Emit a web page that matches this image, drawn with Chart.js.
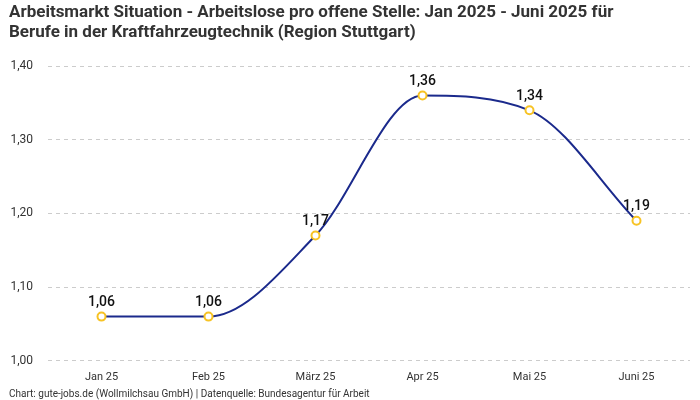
<!DOCTYPE html>
<html>
<head>
<meta charset="utf-8">
<script src="https://cdn.jsdelivr.net/npm/chart.js@4"></script>
<style>
  body { margin: 0; background: #fff; }
  #wrap { width: 700px; height: 400px; }
</style>
</head>
<body>
<div id="wrap"><canvas id="myChart"></canvas></div>
<script>
const months = ['Jan 25', 'Feb 25', 'März 25', 'Apr 25', 'Mai 25', 'Juni 25'];
const ratio = [1.06, 1.06, 1.17, 1.36, 1.34, 1.19];
const yTicks = [1.0, 1.1, 1.2, 1.3, 1.4];

const fmt = v => v.toFixed(2).replace('.', ',');

// Werte über die Punkte schreiben
const valueLabels = {
    id: 'valueLabels',
    afterDatasetsDraw(chart) {
        const ctx = chart.ctx;
        const meta = chart.getDatasetMeta(0);
        ctx.save();
        ctx.font = '500 14px Roboto, sans-serif';
        ctx.fillStyle = '#111';
        ctx.textAlign = 'center';
        ctx.textBaseline = 'bottom';
        meta.data.forEach((pt, i) => {
            ctx.fillText(fmt(ratio[i]), pt.x, pt.y - 7);
        });
        ctx.restore();
    }
};

new Chart(document.getElementById('myChart').getContext('2d'), {
    type: 'line',
    data: {
        labels: months,
        datasets: [{
            data: ratio,
            borderColor: '#1b2a8c',
            borderWidth: 2,
            cubicInterpolationMode: 'monotone',
            pointRadius: 4,
            pointBorderWidth: 2,
            pointBackgroundColor: '#fff',
            pointBorderColor: '#f7c325'
        }]
    },
    options: {
        responsive: true,
        maintainAspectRatio: false,
        animation: false,
        layout: { padding: { left: 9, right: 10, top: 0, bottom: 0 } },
        plugins: {
            legend: { display: false },
            tooltip: { enabled: false },
            title: {
                display: true,
                align: 'start',
                text: ['Arbeitsmarkt Situation - Arbeitslose pro offene Stelle: Jan 2025 - Juni 2025 für',
                       'Berufe in der Kraftfahrzeugtechnik (Region Stuttgart)'],
                color: '#333',
                font: { family: 'Roboto, sans-serif', size: 17, weight: 'bold', lineHeight: 1.15 },
                padding: { top: 3, bottom: 24 }
            },
            subtitle: {
                display: true,
                position: 'bottom',
                align: 'start',
                text: 'Chart: gute-jobs.de (Wollmilchsau GmbH) | Datenquelle: Bundesagentur für Arbeit',
                color: '#333',
                font: { family: 'Roboto, sans-serif', size: 10 },
                padding: { top: 2, bottom: 0 }
            }
        },
        scales: {
            x: {
                offset: true,
                grid: { display: false },
                border: { display: false },
                ticks: { color: '#333', font: { family: 'Roboto, sans-serif', size: 11 }, padding: 2 }
            },
            y: {
                min: 1.0,
                max: 1.4,
                afterBuildTicks: axis => { axis.ticks = yTicks.map(v => ({ value: v })); },
                afterFit: axis => { axis.width = 39; },
                border: { display: false, dash: [4, 4] },
                grid: { color: '#ccc', drawTicks: false },
                ticks: {
                    color: '#333',
                    font: { family: 'Roboto, sans-serif', size: 12 },
                    padding: 15,
                    callback: v => fmt(v)
                }
            }
        }
    },
    plugins: [valueLabels]
});
</script>
</body>
</html>
